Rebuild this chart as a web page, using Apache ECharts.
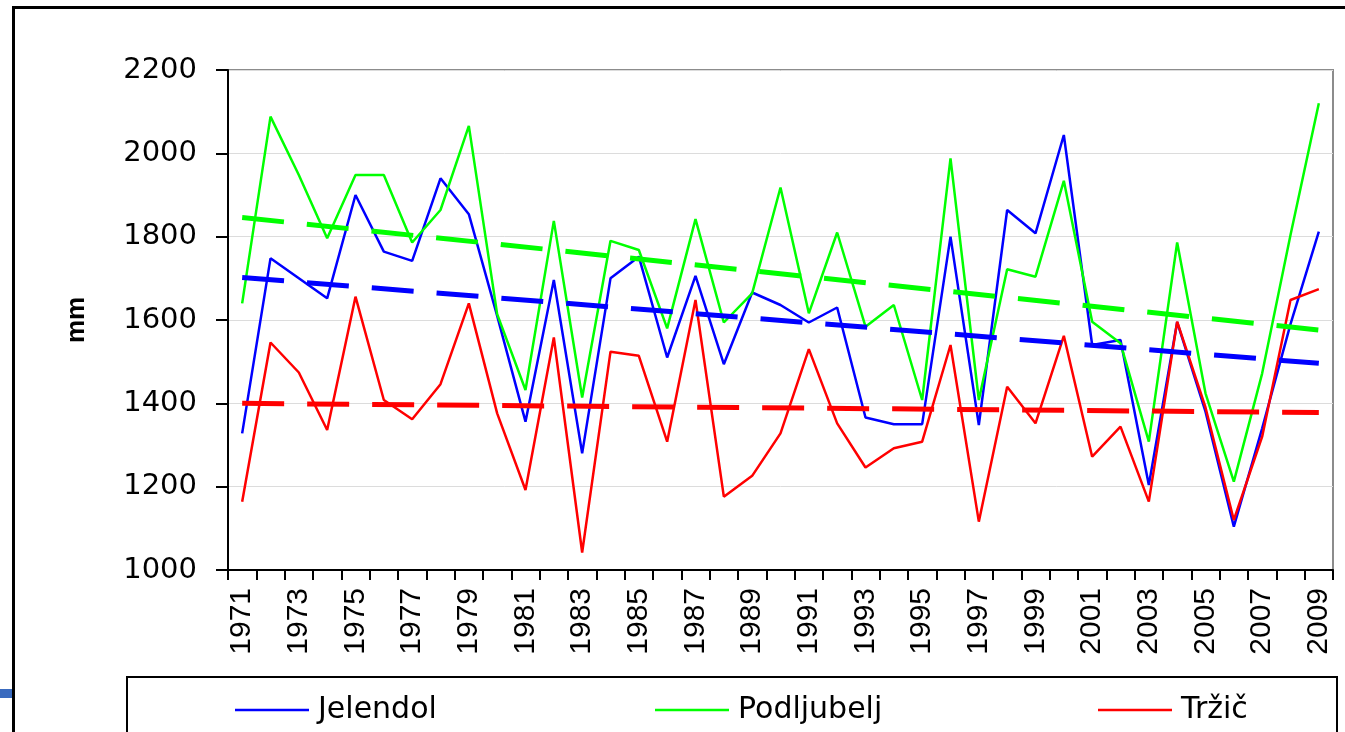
<!DOCTYPE html>
<html>
<head>
<meta charset="utf-8">
<script src="https://cdn.jsdelivr.net/npm/echarts@6/dist/echarts.min.js"></script>
<style>
html,body{margin:0;padding:0;background:#fff;}
#chart{width:1345px;height:732px;}
</style>
</head>
<body>
<div id="chart"></div>
<script>
var years = ['1971','1972','1973','1974','1975','1976','1977','1978','1979','1980',
             '1981','1982','1983','1984','1985','1986','1987','1988','1989','1990',
             '1991','1992','1993','1994','1995','1996','1997','1998','1999','2000',
             '2001','2002','2003','2004','2005','2006','2007','2008','2009'];

var jelendol = [1328,1748,1700,1652,1900,1764,1742,1940,1854,1610,
                1356,1696,1280,1700,1752,1510,1706,1494,1666,1636,
                1594,1630,1366,1350,1350,1800,1348,1864,1808,2044,
                1540,1552,1204,1595,1380,1104,1340,1590,1812];

var podljubelj = [1640,2088,1948,1796,1948,1948,1786,1864,2066,1614,
                  1432,1838,1414,1790,1768,1580,1842,1594,1664,1918,
                  1616,1810,1584,1636,1408,1988,1408,1722,1704,1934,
                  1596,1544,1308,1786,1424,1212,1472,1804,2120];

var trzic = [1164,1546,1474,1336,1656,1408,1362,1446,1640,1376,
             1192,1558,1042,1524,1514,1308,1648,1176,1226,1328,
             1530,1352,1246,1292,1308,1540,1116,1440,1352,1562,
             1272,1344,1164,1596,1390,1120,1320,1648,1674];

// linear trend lines: values read at first and last year
var jelendolTrend = [1702, 1496];
var podljubeljTrend = [1846, 1576];
var trzicTrend = [1400, 1378];

var yTicks = [1000, 1200, 1400, 1600, 1800, 2000, 2200];

function trendData(t) {
  return years.map(function (y, i) {
    if (i === 0) return t[0];
    if (i === years.length - 1) return t[1];
    return null;
  });
}

var chart = echarts.init(document.getElementById('chart'), null, {renderer: 'canvas'});

function lineSeries(name, data, color) {
  return {
    name: name, type: 'line', data: data, showSymbol: false, symbol: 'none',
    lineStyle: {color: color, width: 2.5}, itemStyle: {color: color},
    animation: false, z: 3
  };
}
function trendSeries(name, t, color) {
  return {
    name: name, type: 'line', data: trendData(t), connectNulls: true,
    showSymbol: false, symbol: 'none', silent: true,
    lineStyle: {color: color, width: 5, type: [42, 23]},
    itemStyle: {color: color}, animation: false, z: 4
  };
}
function legendItem(name, left) {
  return {
    data: [name], left: left, top: 690, icon: 'rect',
    itemWidth: 74, itemHeight: 2.5, itemGap: 0, selectedMode: false,
    textStyle: {fontFamily: 'DejaVu Sans', fontSize: 30, color: '#000', padding: [0, 0, 0, 4]}
  };
}

var option = {
  backgroundColor: '#fff',
  animation: false,
  graphic: [
    {type: 'rect', shape: {x: 13.5, y: 7.5, width: 1400, height: 800},
     style: {fill: null, stroke: '#000', lineWidth: 3}, z: 0},
    {type: 'rect', shape: {x: 0, y: 689, width: 12, height: 9},
     style: {fill: '#3a6bbf'}, z: 0},
    {type: 'rect', shape: {x: 127, y: 677, width: 1210, height: 60},
     style: {fill: '#fff', stroke: '#000', lineWidth: 2}, z: 0}
  ],
  legend: [
    legendItem('Jelendol', 230),
    legendItem('Podljubelj', 650),
    legendItem('Tržič', 1093)
  ],
  grid: {
    left: 228, right: 12, top: 70, bottom: 162,
    show: true, borderColor: '#8c8c8c', borderWidth: 2, backgroundColor: '#fff'
  },
  xAxis: {
    type: 'category', data: years, boundaryGap: true,
    axisLine: {lineStyle: {color: '#000', width: 2}},
    axisTick: {show: true, interval: 0, length: 10, inside: false, lineStyle: {color: '#000', width: 2}},
    axisLabel: {interval: 1, rotate: 90, margin: 18, color: '#000',
                fontFamily: 'Liberation Sans', fontSize: 30},
    splitLine: {show: false}
  },
  yAxis: {
    type: 'value', min: 1000, max: 2200, interval: 200,
    name: 'mm', nameLocation: 'middle', nameGap: 138, nameRotate: 90,
    nameTextStyle: {fontFamily: 'Liberation Sans', fontSize: 26, fontWeight: 'bold', color: '#000'},
    axisLine: {show: true, lineStyle: {color: '#000', width: 2}},
    axisTick: {show: true, length: 12, lineStyle: {color: '#000', width: 2}},
    axisLabel: {margin: 31, color: '#000', fontFamily: 'DejaVu Sans', fontSize: 29,
                formatter: function (v) { return yTicks.indexOf(v) >= 0 ? String(v) : ''; }},
    splitLine: {show: true, lineStyle: {color: '#dcdcdc', width: 1}}
  },
  series: [
    lineSeries('Jelendol', jelendol, '#0000ff'),
    lineSeries('Podljubelj', podljubelj, '#00ff00'),
    lineSeries('Tržič', trzic, '#ff0000'),
    trendSeries('Jelendol trend', jelendolTrend, '#0000ff'),
    trendSeries('Podljubelj trend', podljubeljTrend, '#00ff00'),
    trendSeries('Tržič trend', trzicTrend, '#ff0000')
  ]
};
chart.setOption(option);
</script>
</body>
</html>
